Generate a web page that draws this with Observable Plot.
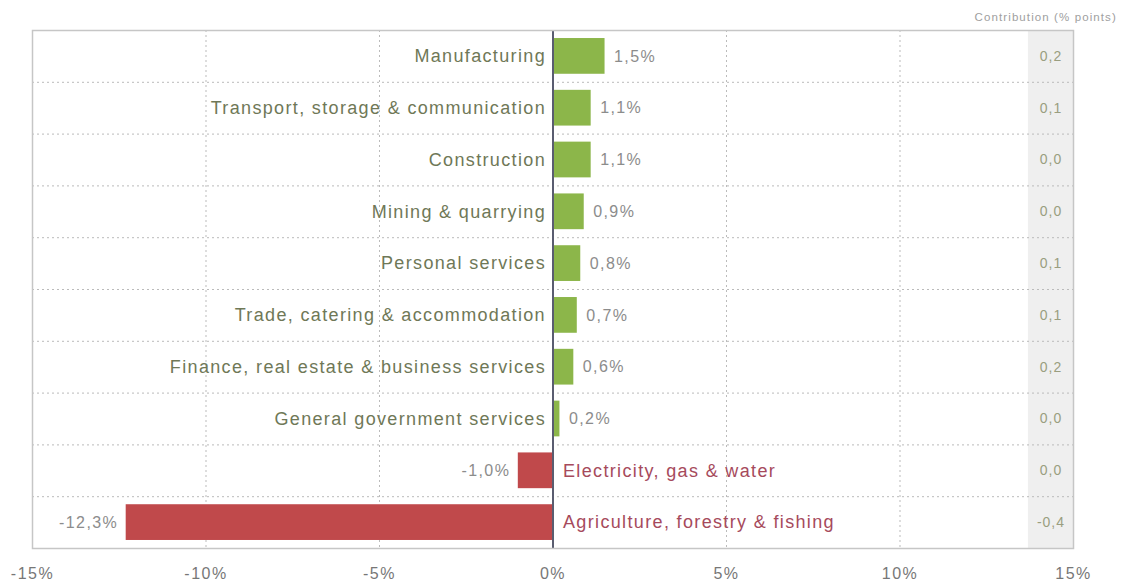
<!DOCTYPE html>
<html>
<head>
<meta charset="utf-8">
<script src="https://cdn.jsdelivr.net/npm/d3@7"></script>
<script src="https://cdn.jsdelivr.net/npm/@observablehq/plot@0.6"></script>
<style>
  html, body { margin: 0; padding: 0; background: #fff; }
  #chart svg { display: block; }
</style>
</head>
<body>
<div id="chart"></div>
<script>
const categories = [
  "Manufacturing",
  "Transport, storage & communication",
  "Construction",
  "Mining & quarrying",
  "Personal services",
  "Trade, catering & accommodation",
  "Finance, real estate & business services",
  "General government services",
  "Electricity, gas & water",
  "Agriculture, forestry & fishing"
];
const growth = [1.5, 1.1, 1.1, 0.9, 0.8, 0.7, 0.6, 0.2, -1.0, -12.3];
const contribution = [0.2, 0.1, 0.0, 0.0, 0.1, 0.1, 0.2, 0.0, 0.0, -0.4];
const xTicks = [-15, -10, -5, 0, 5, 10, 15];
const gridTicks = [-10, -5, 5, 10];
const contribHeader = "Contribution (% points)";
const contribBand = [13.7, 15];

const data = categories.map((c, i) => ({cat: c, value: growth[i], contrib: contribution[i]}));
const pos = data.filter(d => d.value >= 0);
const neg = data.filter(d => d.value < 0);

const W = 1121, H = 581;
const mT = 30, mB = 33, mL = 32, mR = 48;
const step = (H - mT - mB) / categories.length;

const fmt = v => v.toFixed(1).replace(".", ",");
const green = "#8cb64a", red = "#c0494b";
const font = "'Liberation Sans', Arial, sans-serif";

const chart = Plot.plot({
  width: W,
  height: H,
  marginTop: mT,
  marginBottom: mB,
  marginLeft: mL,
  marginRight: mR,
  style: {fontFamily: font, background: "#fff"},
  x: {domain: [-15, 15], ticks: xTicks, tickFormat: d => d + "%", tickSize: 0, tickPadding: 19, label: null},
  y: {domain: categories, paddingInner: 0.31, paddingOuter: 0.155, round: false, axis: null},
  marks: [
    Plot.rect([0], {x1: () => contribBand[0], x2: () => contribBand[1], fill: "#efefef"}),
    Plot.ruleX(gridTicks, {stroke: "#bbb", strokeDasharray: "2,3"}),
    Plot.ruleY(categories.slice(0, -1), {y: d => d, dy: step / 2, stroke: "#bbb", strokeDasharray: "2,3"}),
    Plot.barX(data, {x: "value", y: "cat", fill: d => d.value >= 0 ? green : red}),
    Plot.ruleX([0], {stroke: "#5a5d70", strokeWidth: 2}),
    Plot.text(pos, {x: 0, y: "cat", text: "cat", textAnchor: "end", dx: -7, fill: "#6f7857", fontSize: 18}),
    Plot.text(pos, {x: "value", y: "cat", text: d => fmt(d.value) + "%", textAnchor: "start", dx: 9, fill: "#8c8c8c", fontSize: 16}),
    Plot.text(neg, {x: 0, y: "cat", text: "cat", textAnchor: "start", dx: 10, fill: "#a64a5c", fontSize: 18}),
    Plot.text(neg, {x: "value", y: "cat", text: d => fmt(d.value) + "%", textAnchor: "end", dx: -8, fill: "#8c8c8c", fontSize: 16}),
    Plot.text(data, {x: (contribBand[0] + contribBand[1]) / 2, y: "cat", text: d => fmt(d.contrib), fill: "#9a9e80", fontSize: 14}),
    Plot.text([contribHeader], {x: (contribBand[0] + contribBand[1]) / 2 - 0.15, frameAnchor: "top", dy: -18, text: d => d, fill: "#a0a0a0", fontSize: 11.5}),
    Plot.frame({stroke: "#c6c6c6", strokeWidth: 1.5})
  ]
});
const spacing = ["1.35px", "1.4px", "1.35px", "1.4px", "1px", "1.1px"];
chart.querySelectorAll("g[aria-label='text']").forEach((g, i) => {
  g.style.letterSpacing = spacing[i] || "0px";
});
const axisG = chart.querySelector("g[aria-label='x-axis tick label']");
if (axisG) {
  axisG.setAttribute("fill", "#777");
  axisG.setAttribute("font-size", "16");
  axisG.style.fontSize = "16px";
  axisG.style.letterSpacing = "1.5px";
}
document.getElementById("chart").appendChild(chart);
</script>
</body>
</html>
